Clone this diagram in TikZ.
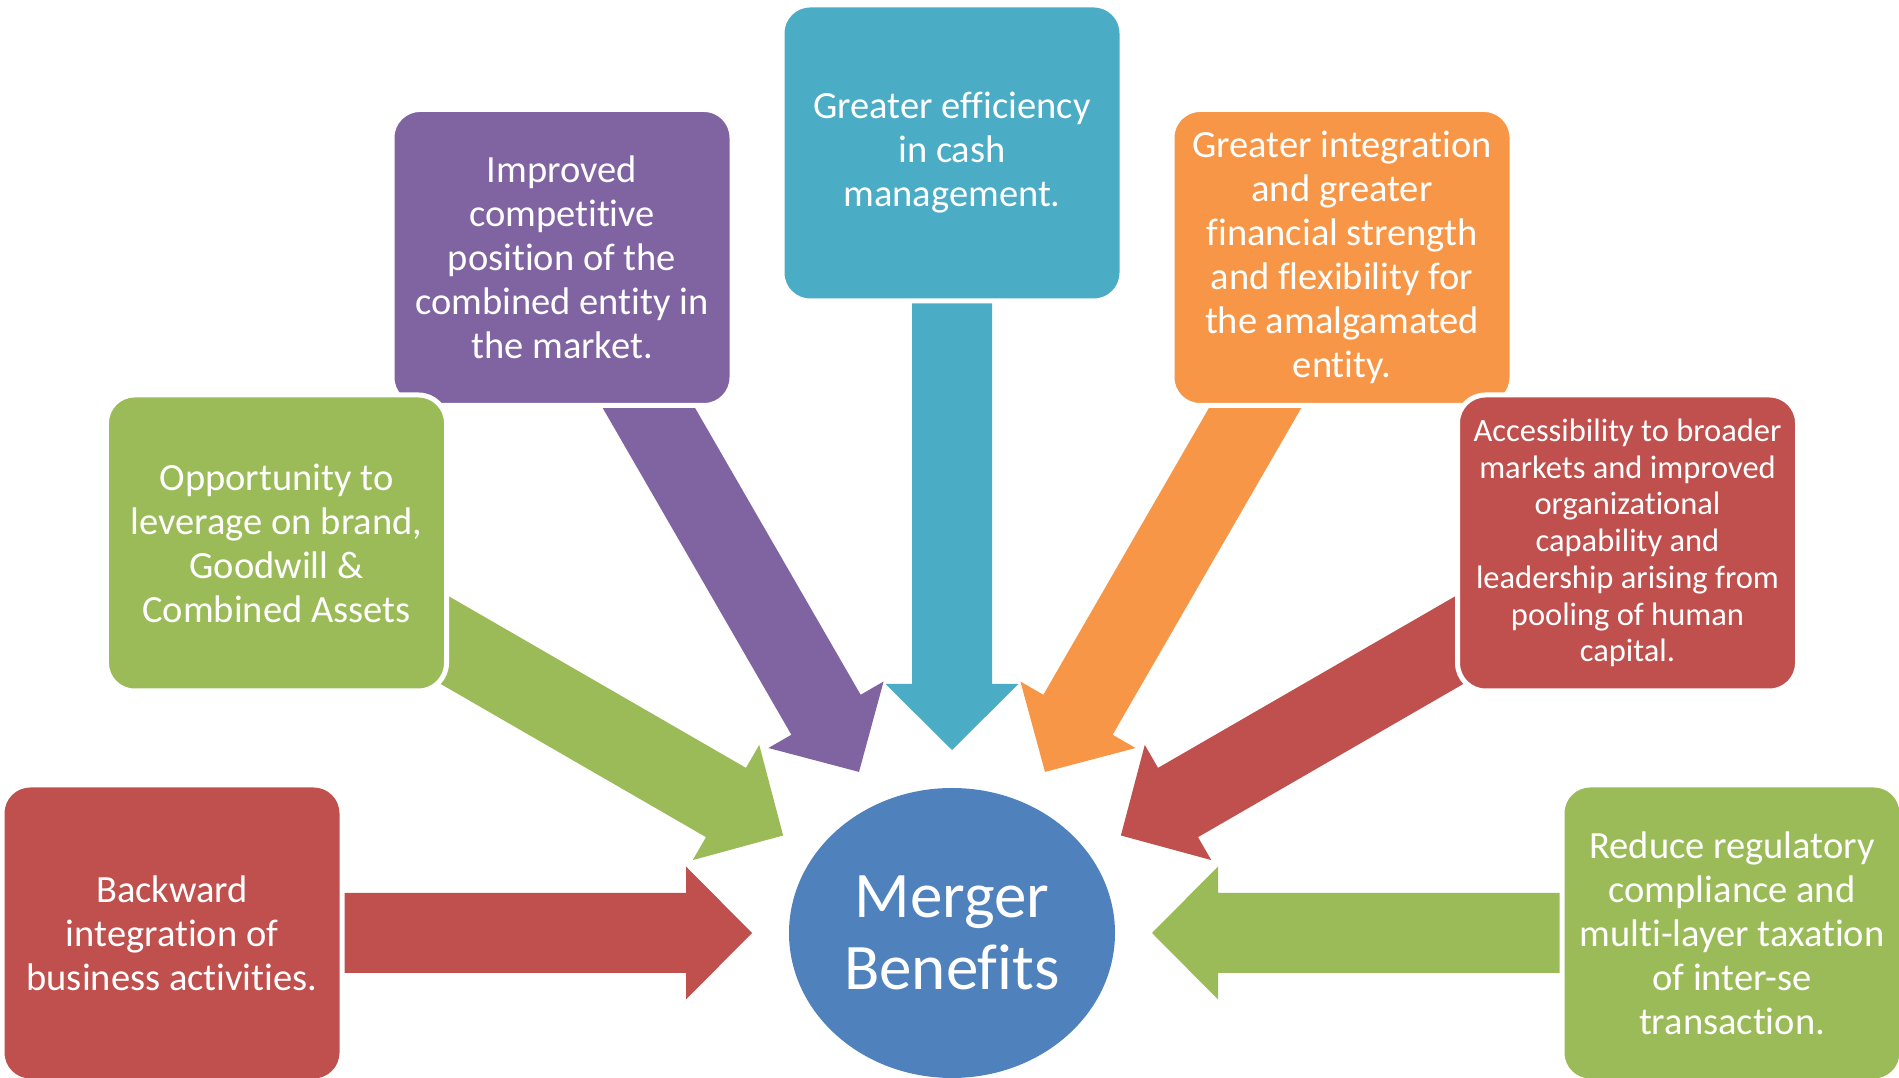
\documentclass[tikz,border=0pt]{standalone}
\usepackage{fontspec}
\setmainfont{Carlito}[Ligatures=CommonOff]
\usetikzlibrary{calc,shapes.geometric}
\pgfdeclarelayer{arrowlayer}
\pgfsetlayers{arrowlayer,main}

\definecolor{cRed}{HTML}{C0504D}
\definecolor{cGreen}{HTML}{9BBB59}
\definecolor{cPurple}{HTML}{8064A2}
\definecolor{cAqua}{HTML}{4BACC6}
\definecolor{cOrange}{HTML}{F79646}
\definecolor{cBlue}{HTML}{4F81BD}

\tikzset{
  box/.style={rectangle, rounded corners=28pt, draw=white, line width=5pt,
    minimum width=340pt, minimum height=296pt, inner sep=0pt,
    align=center, text=white, font=\fontsize{38.5}{44}\selectfont},
  smalltext/.style={font=\fontsize{32.5}{36.7}\selectfont},
  hub/.style={ellipse, fill=cBlue, minimum width=326pt, minimum height=290pt,
    inner sep=0pt, align=center, text=white, font=\fontsize{65}{72}\selectfont},
}

% block arrow from node #1 to tip coordinate #2, filled with colour #3
\newcommand\fatarrow[3]{%
  \coordinate (#2-h) at ($(#2)!66pt!(#1)$);
  \fill[#3] ($(#1)!40pt!90:(#2)$) -- ($(#2-h)!40pt!90:(#2)$)
    -- ($(#2-h)!66.5pt!90:(#2)$) -- (#2)
    -- ($(#2-h)!66.5pt!-90:(#2)$) -- ($(#2-h)!40pt!-90:(#2)$)
    -- ($(#1)!40pt!-90:(#2)$) -- cycle;
}

\begin{document}
\begin{tikzpicture}[x=1pt,y=1pt]
\useasboundingbox (0,0) rectangle (1899,1078);

% central hub
\node[hub] (c) at (952,145) {Merger\\Benefits};

% surrounding boxes (drawing order sets the overlaps)
\node[box, fill=cRed] (b1) at ($(c)+(180:780)$)
  {Backward\\integration of\\business activities.};
\node[box, fill=cPurple] (b3) at ($(c)+(120:780)$)
  {Improved\\competitive\\position of the\\combined entity in\\the market.};
\node[box, fill=cGreen] (b2) at ($(c)+(150:780)$)
  {Opportunity to\\leverage on brand,\\Goodwill \&\\Combined Assets};
\node[box, fill=cAqua] (b4) at ($(c)+(90:780)$)
  {Greater efficiency\\in cash\\management.};
\node[box, fill=cOrange] (b5) at ($(c)+(60:780)$)
  {Greater integration\\and greater\\financial strength\\and flexibility for\\the amalgamated\\entity.};
\node[box, smalltext, fill=cRed] (b6) at ($(c)+(30:780)$)
  {Accessibility to broader\\markets and improved\\organizational\\capability and\\leadership arising from\\pooling of human\\capital.};
\node[box, fill=cGreen] (b7) at ($(c)+(0:780)$)
  {Reduce regulatory\\compliance and\\multi-layer taxation\\of inter-se\\transaction.};

% arrow tips around the hub
\coordinate (t1) at ($(c)!200pt!(b1)$);
\coordinate (t2) at ($(c)!195pt!(b2)$);
\coordinate (t3) at ($(c)!186pt!(b3)$);
\coordinate (t4) at ($(c)!183pt!(b4)$);
\coordinate (t5) at ($(c)!186pt!(b5)$);
\coordinate (t6) at ($(c)!195pt!(b6)$);
\coordinate (t7) at ($(c)!200pt!(b7)$);

\begin{pgfonlayer}{arrowlayer}
  \fatarrow{b1}{t1}{cRed}
  \fatarrow{b2}{t2}{cGreen}
  \fatarrow{b3}{t3}{cPurple}
  \fatarrow{b4}{t4}{cAqua}
  \fatarrow{b5}{t5}{cOrange}
  \fatarrow{b6}{t6}{cRed}
  \fatarrow{b7}{t7}{cGreen}
\end{pgfonlayer}
\end{tikzpicture}
\end{document}
